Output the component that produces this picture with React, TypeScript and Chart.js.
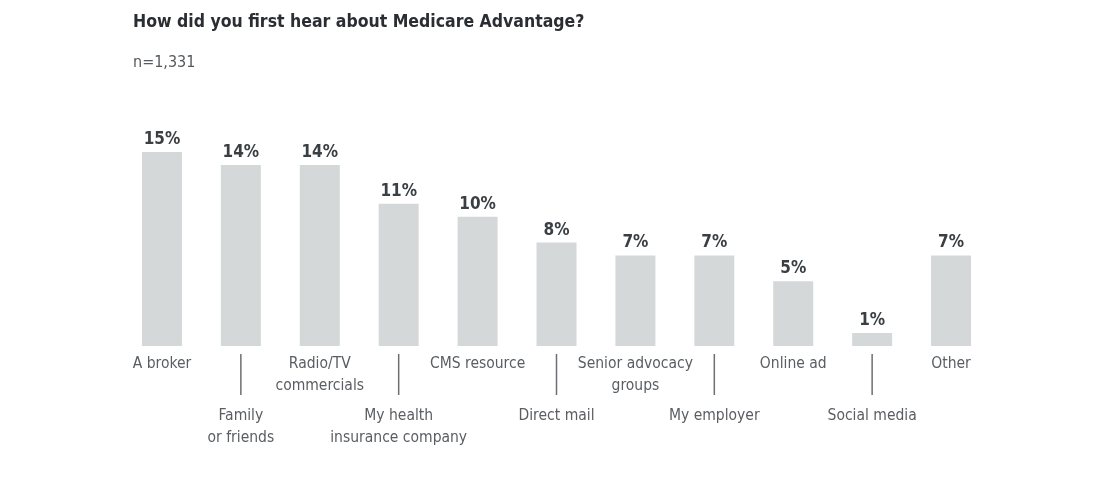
import React, { useEffect, useRef } from "react";
import { Chart, registerables } from "chart.js";

Chart.register(...registerables);

const TITLE = "How did you first hear about Medicare Advantage?";
const SUBTITLE = "n=1,331";

const categories: string[][] = [
  ["A broker"],
  ["Family", "or friends"],
  ["Radio/TV", "commercials"],
  ["My health", "insurance company"],
  ["CMS resource"],
  ["Direct mail"],
  ["Senior advocacy", "groups"],
  ["My employer"],
  ["Online ad"],
  ["Social media"],
  ["Other"],
];

const values: number[] = [15, 14, 14, 11, 10, 8, 7, 7, 5, 1, 7];

const COND = '"DejaVu Sans Condensed", "DejaVu Sans", sans-serif';

const overlay = {
  id: "overlay",
  afterDraw(chart: any) {
    const ctx = chart.ctx as CanvasRenderingContext2D;
    const meta = chart.getDatasetMeta(0);
    const xs = chart.scales.x;
    ctx.save();
    ctx.textAlign = "left";
    ctx.textBaseline = "alphabetic";
    ctx.fillStyle = "#2a2e33";
    ctx.font = `bold 17.5px ${COND}`;
    ctx.fillText(TITLE, 133, 27);
    ctx.fillStyle = "#55595d";
    ctx.font = `16px ${COND}`;
    ctx.fillText(SUBTITLE, 133, 67);

    ctx.textAlign = "center";
    ctx.fillStyle = "#3a3f44";
    ctx.font = `bold 17px ${COND}`;
    meta.data.forEach((bar: any, i: number) => {
      ctx.fillText(values[i] + "%", bar.x, bar.y - 8);
    });

    ctx.font = `15.5px ${COND}`;
    categories.forEach((lines, i) => {
      const x = xs.getPixelForValue(i);
      const odd = i % 2 === 1;
      const base = odd ? 420 : 368;
      ctx.fillStyle = "#5a5e62";
      lines.forEach((ln, j) => ctx.fillText(ln, x, base + j * 22));
      if (odd) {
        ctx.strokeStyle = "#6b6f73";
        ctx.lineWidth = 1.5;
        ctx.beginPath();
        ctx.moveTo(x, 354);
        ctx.lineTo(x, 395);
        ctx.stroke();
      }
    });
    ctx.restore();
  },
};

export default function App() {
  const ref = useRef<HTMLCanvasElement>(null);
  useEffect(() => {
    document.body.style.margin = "0";
    const chart = new Chart(ref.current!, {
      type: "bar",
      data: {
        labels: categories.map((c) => c.join(" ")),
        datasets: [
          {
            data: values,
            backgroundColor: "#d5d8d9",
            borderWidth: 0,
            barPercentage: 1,
            categoryPercentage: 0.507,
          },
        ],
      },
      options: {
        responsive: false,
        animation: false,
        events: [],
        layout: { padding: { left: 122.5, right: 108.5, top: 152, bottom: 152 } },
        scales: {
          x: { display: false },
          y: { display: false, min: 0, max: 15 },
        },
        plugins: { legend: { display: false }, tooltip: { enabled: false }, title: { display: false } },
      },
      plugins: [overlay],
    });
    return () => chart.destroy();
  }, []);
  return (
    <div style={{ width: 1099, height: 498 }}>
      <canvas ref={ref} width={1099} height={498} style={{ width: 1099, height: 498, display: "block" }} />
    </div>
  );
}
